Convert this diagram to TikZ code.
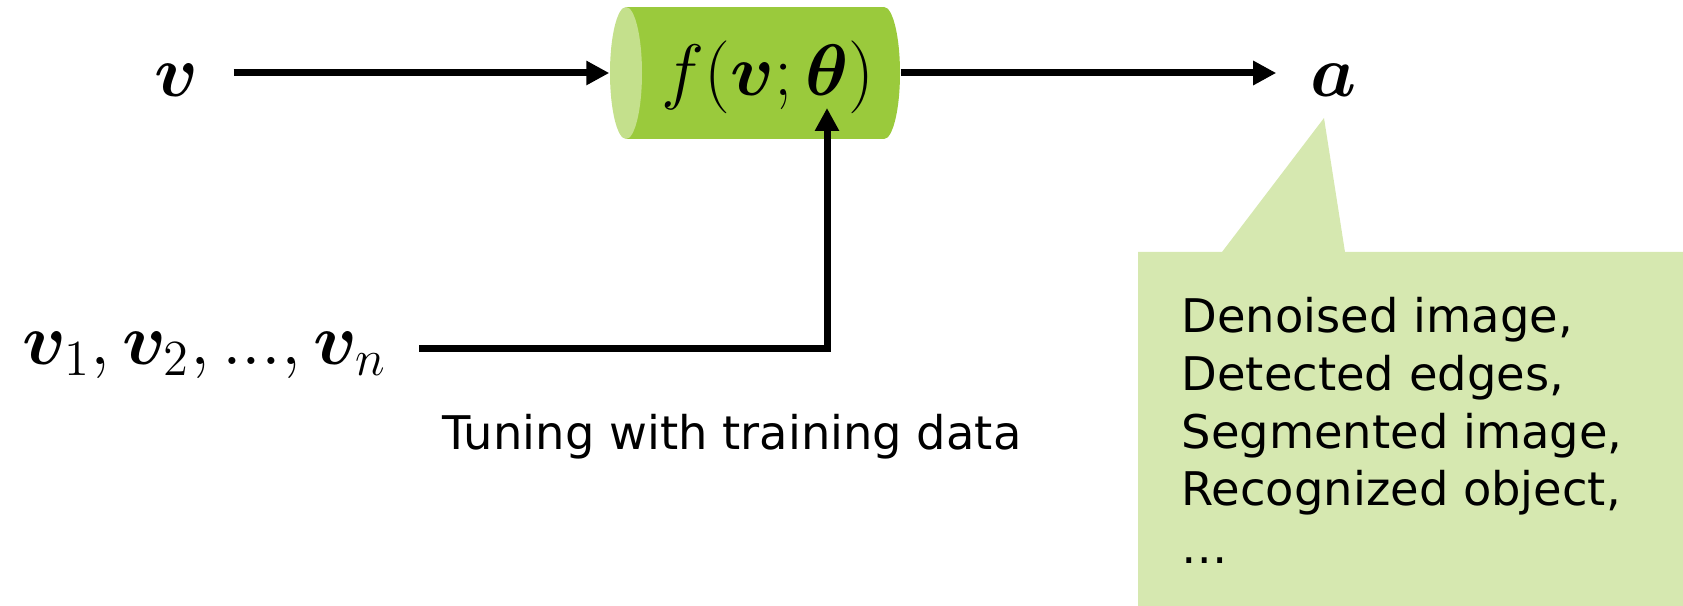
\documentclass[tikz,border=0pt]{standalone}
\usepackage{amsmath,bm}
\usepackage{fontspec}
\setmainfont{DejaVu Sans}
\usetikzlibrary{arrows.meta}
\definecolor{cylbody}{RGB}{154,202,60}
\definecolor{cylface}{RGB}{196,224,140}
\definecolor{callfill}{RGB}{214,232,176}
\tikzset{
	arr/.style={line width=0.7mm, -{Triangle[length=2.3mm,width=2.3mm]}},
	mathtxt/.style={inner sep=0pt, font=\fontsize{21}{21}\selectfont},
	lbl/.style={inner sep=0pt, align=left, font=\fontsize{13.2}{16.4}\selectfont},
}

\begin{document}
\begin{tikzpicture}[x=0.1mm, y=-0.1mm]
			%%%%% START %%%%%
			\useasboundingbox (0,0) rectangle (1683,606);
			
			\fill[callfill] (1138,252) -- (1222,252) -- (1324,118) -- (1345,252) -- (1683,252) -- (1683,606) -- (1138,606) -- cycle;
			
			\fill[cylbody] (626,7) rectangle (884,139);
			\fill[cylbody] (884,73) ellipse [x radius=16, y radius=66];
			\fill[cylface] (626,73) ellipse [x radius=16, y radius=66];
			\node[minimum width=29mm, minimum height=13.2mm, inner sep=0pt] (model) at (755,73) {};
			\node[mathtxt, anchor=base] (fn) at (768,96) {$f(\bm{v};\bm{\theta})$};
			
			\node[mathtxt, anchor=base] (v) at (177,97) {$\bm{v}$};
			\node[mathtxt, anchor=base] (a) at (1334,97) {$\bm{a}$};
			\node[mathtxt, anchor=base west, font=\fontsize{19.2}{19.2}\selectfont] (data) at (22,365) {$\bm{v}_1,\bm{v}_2,{...},\bm{v}_n$};
			
			\coordinate (bend) at (827,349);
			\coordinate (tune) at (827,108);
			
			\draw[arr, shorten <=3.4mm] (v.east |- model.west) -- (model.west);
			\draw[arr, shorten >=3.4mm] (model.east) -- (model.east -| a.west);
			\draw[arr, shorten <=3.2mm] (data.east |- bend) -- (bend) -- (tune);
			
			\node[inner sep=0pt, anchor=base, font=\fontsize{13.2}{16}\selectfont] (tuning) at (732,450) {Tuning with training data};
			
			\node[lbl, anchor=north west] (outs) at (1181,297) {Denoised image,\\Detected edges,\\Segmented image,\\Recognized object,\\…};
			
			%%%%% END %%%%%
		\end{tikzpicture}
\end{document}
